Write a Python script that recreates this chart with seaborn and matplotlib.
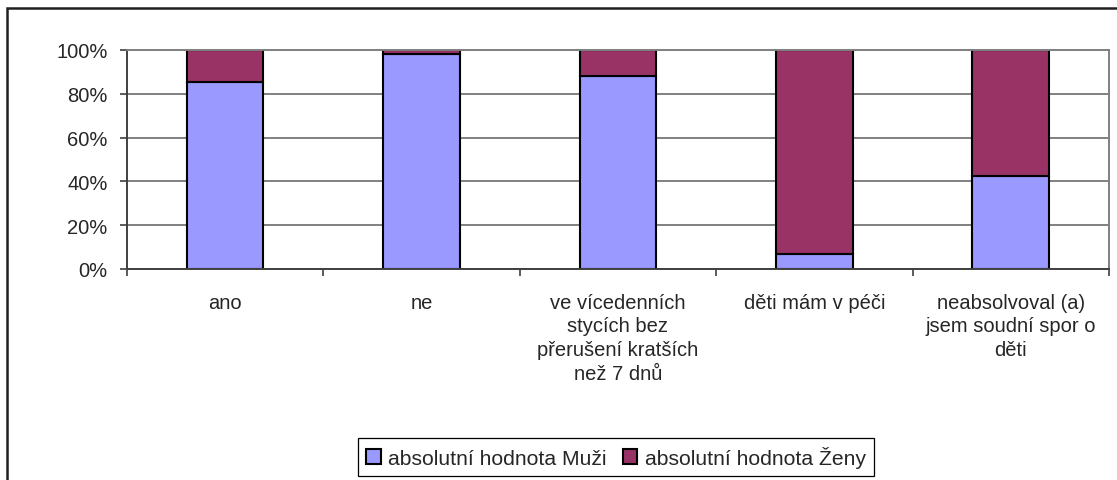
import matplotlib
matplotlib.use("Agg")
import matplotlib.pyplot as plt
import seaborn as sns
from matplotlib.patches import Rectangle
from matplotlib.ticker import FixedLocator, PercentFormatter

# values
categories = [
    "ano",
    "ne",
    "ve vícedenních\nstycích bez\npřerušení kratších\nnež 7 dnů",
    "děti mám v péči",
    "neabsolvoval (a)\njsem soudní spor o\nděti",
]
muzi = [85.4, 98.1, 88.0, 6.8, 42.6]
zeny = [14.6, 1.9, 12.0, 93.2, 57.4]
series_labels = ["absolutní hodnota Muži", "absolutní hodnota Ženy"]
yticks = [0, 20, 40, 60, 80, 100]

FS = 14.5

sns.set_style("white")
plt.rcParams["font.family"] = ["Liberation Sans", "DejaVu Sans"]

fig = plt.figure(figsize=(11.17, 4.81), dpi=100)
ax = fig.add_axes([0.1137, 0.4387, 0.8791, 0.4553])

sns.barplot(x=categories, y=muzi, color="#9999FF", width=0.39, edgecolor="black",
            linewidth=1.5, label=series_labels[0], ax=ax, saturation=1)
sns.barplot(x=categories, y=zeny, bottom=muzi, color="#993366", width=0.39,
            edgecolor="black", linewidth=1.5, label=series_labels[1], ax=ax,
            saturation=1)

ax.set_xlim(-0.5, len(categories) - 0.5)
ax.set_ylim(0, 100)
ax.set_yticks(yticks)
ax.yaxis.set_major_formatter(PercentFormatter(decimals=0))
ax.yaxis.grid(True, color="#808080", linewidth=1.4)
ax.set_axisbelow(True)

ax.xaxis.set_minor_locator(FixedLocator([i - 0.5 for i in range(len(categories) + 1)]))
ax.tick_params(axis="x", which="major", length=0, pad=17, labelsize=FS)
ax.tick_params(axis="x", which="minor", length=5, width=1.2, color="#404040", direction="out",
               bottom=True)
ax.tick_params(axis="y", length=5, width=1.2, color="#404040", direction="out", left=True,
               pad=9, labelsize=FS)
for lab in ax.get_xticklabels():
    lab.set_linespacing(1.32)
    lab.set_ha("center")

for side in ["left", "bottom", "right", "top"]:
    ax.spines[side].set_visible(True)
    ax.spines[side].set_color("#808080")
    ax.spines[side].set_linewidth(1.4)
ax.spines["bottom"].set_color("#404040")
ax.spines["left"].set_color("#404040")

handles, labels = ax.get_legend_handles_labels()
if ax.get_legend():
    ax.get_legend().remove()
leg = fig.legend(handles, labels, loc="center", bbox_to_anchor=(616 / 1117, 1 - 458 / 481),
                 ncol=2, frameon=True, fancybox=False, edgecolor="black", framealpha=1,
                 fontsize=15.2, handlelength=0.7, handleheight=0.7, handletextpad=0.35,
                 columnspacing=0.75, borderpad=0.4)
leg.get_frame().set_linewidth(0.9)

# outer chart frame (cut off at right and bottom)
fig.patches.append(Rectangle((7 / 1117, -0.1), 1.2, 1.1 - 9 / 481, transform=fig.transFigure,
                             fill=False, edgecolor="#202020", linewidth=1.8))

fig.savefig("out.png", dpi=100)
